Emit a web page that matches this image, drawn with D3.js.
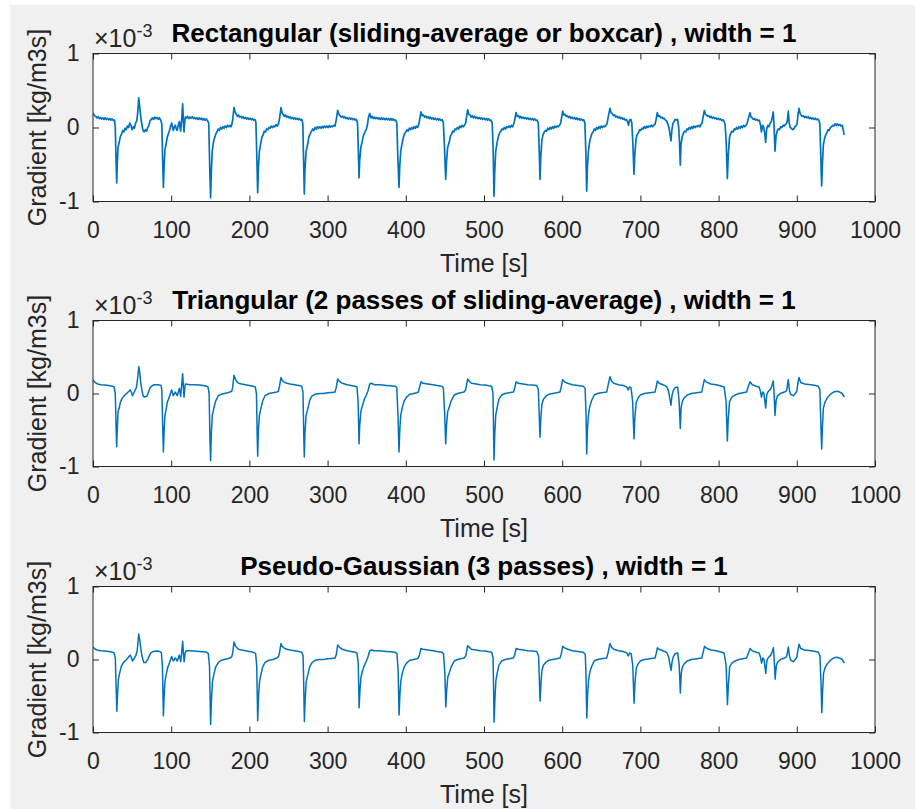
<!DOCTYPE html>
<html><head><meta charset="utf-8">
<script src="https://cdn.jsdelivr.net/npm/d3@7"></script>
<style>
body{margin:0;background:#fff}
text{font-family:"Liberation Sans",Arial,Helvetica,sans-serif}
</style>
</head><body>
<svg id="chart" width="919" height="809"></svg>
<script>
// ---------- data (gradient values in units of 1e-3 kg/m3s) ----------
const timeTicks = [0,100,200,300,400,500,600,700,800,900,1000];
const gradTicks = [-1,0,1];
const panelTitles = [
  "Rectangular (sliding-average or boxcar) , width = 1",
  "Triangular (2 passes of sliding-average) , width = 1",
  "Pseudo-Gaussian (3 passes) , width = 1"
];
const xLabel = "Time [s]";
const yLabel = "Gradient [kg/m3s]";

const rectSeries = [[0,0.2],[1,0.17],[2,0.16],[3.5,0.15],[5,0.13],[6.5,0.145],[8,0.12],[9.5,0.135],[11,0.115],[12.5,0.13],[14,0.11],[15.5,0.13],[17,0.11],[18.5,0.125],[20,0.105],[21.5,0.12],[23,0.1],[24.5,0.115],[26,0.095],[27.5,0.1],[28.5,0.0],[29.5,-0.45],[30.3,-0.75],[31,-0.5],[32,-0.27],[33.5,-0.2],[35,-0.12],[36.5,-0.09],[38,-0.04],[39.5,-0.06],[41,-0.01],[42.5,-0.03],[44,0.02],[45.5,0.0],[47,0.06],[48.5,0.03],[50,-0.03],[51.5,0.01],[53,-0.01],[54.5,0.06],[56,0.09],[57.2,0.2],[58.5,0.4],[59.5,0.3],[61,0.15],[62.5,0.04],[64,-0.04],[65.5,-0.06],[67,-0.03],[68.5,-0.05],[70,0.0],[71.5,0.03],[73,0.09],[74.5,0.11],[76,0.13],[77.5,0.11],[79,0.14],[80.5,0.12],[82,0.135],[83.5,0.11],[85,0.13],[86.5,0.1],[88,0.05],[89,-0.42],[90,-0.81],[91,-0.5],[92,-0.3],[93.5,-0.22],[95,-0.13],[96.5,-0.08],[97.6,-0.05],[99,0.01],[100.6,0.06],[102.7,-0.04],[104,0.01],[105.3,0.03],[106.5,-0.02],[107.8,-0.04],[109,0.03],[110.4,0.08],[112.1,-0.05],[113.5,0.12],[114.7,0.32],[115.5,0.1],[116.4,-0.06],[117.3,0.08],[118.1,0.14],[119.5,0.13],[121,0.15],[122.5,0.12],[124,0.14],[125.5,0.125],[127,0.145],[128.5,0.12],[130,0.135],[131.5,0.115],[133,0.13],[134.5,0.11],[136,0.13],[137.5,0.11],[139,0.125],[140.5,0.1],[142,0.12],[143.5,0.1],[145,0.115],[146.5,0.09],[148,0.06],[149.3,-0.55],[150.4,-0.95],[151.3,-0.6],[152.5,-0.32],[154,-0.2],[155.5,-0.14],[157,-0.09],[158.5,-0.06],[160,-0.02],[161.5,-0.04],[163,0.0],[164.5,-0.02],[166,0.01],[167.5,-0.01],[169,0.02],[170.5,0.0],[172,0.03],[173.5,0.01],[175,0.03],[176.5,0.01],[177.8,0.05],[178.8,0.12],[180.3,0.27],[181.5,0.22],[183,0.18],[184.5,0.15],[186,0.17],[187.5,0.14],[189,0.15],[190.5,0.13],[192,0.145],[193.5,0.12],[195,0.135],[196.5,0.115],[198,0.13],[199.5,0.11],[201,0.125],[202.5,0.105],[204,0.12],[205.5,0.1],[207,0.11],[208.3,0.07],[209.5,-0.4],[210.6,-0.88],[211.5,-0.55],[212.8,-0.32],[214.4,-0.22],[216,-0.13],[217.5,-0.1],[219,-0.05],[220.5,-0.06],[222,-0.02],[223.5,-0.03],[225,0.0],[226.5,-0.01],[228,0.02],[229.5,0.0],[231,0.02],[232.5,0.01],[234,0.04],[235.5,0.02],[237,0.04],[238.5,0.12],[240.4,0.27],[241.8,0.2],[243,0.18],[244.5,0.15],[246,0.17],[247.5,0.14],[249,0.155],[250.5,0.13],[252,0.145],[253.5,0.12],[255,0.135],[256.5,0.115],[258,0.13],[259.5,0.11],[261,0.125],[262.5,0.105],[264,0.12],[265.5,0.1],[267,0.11],[268.3,0.05],[269.4,-0.5],[270.2,-0.9],[271,-0.58],[272.5,-0.32],[274.5,-0.23],[276,-0.13],[277.5,-0.09],[279.6,-0.05],[281,-0.02],[282.5,-0.04],[284,0.0],[285.5,-0.02],[287,0.01],[288.5,-0.01],[290,0.01],[291.5,-0.01],[293,0.015],[294.5,-0.005],[296,0.02],[297.5,0.0],[299,0.02],[300.5,0.0],[302,0.025],[303.5,0.005],[305,0.02],[306.5,0.01],[308,0.03],[309.5,0.02],[311,0.1],[312.9,0.23],[314.5,0.18],[316,0.16],[317.5,0.14],[319,0.155],[320.5,0.13],[322,0.145],[323.5,0.12],[325,0.135],[326.5,0.115],[328,0.13],[329.5,0.11],[331,0.125],[332.5,0.105],[334,0.12],[335.5,0.1],[337,0.11],[338.3,0.05],[339.3,-0.3],[340.2,-0.68],[341,-0.45],[342.5,-0.27],[344.4,-0.18],[346,-0.1],[347.5,-0.07],[349.6,-0.02],[351,0.04],[352.3,0.14],[353.9,0.19],[355.5,0.13],[357,0.15],[358.5,0.12],[360,0.14],[361.5,0.12],[363,0.135],[364.5,0.115],[366,0.13],[367.5,0.11],[369,0.13],[370.5,0.11],[372,0.125],[373.5,0.105],[375,0.125],[376.5,0.105],[378,0.12],[379.5,0.1],[381,0.12],[382.5,0.1],[384,0.115],[385.5,0.095],[387,0.1],[388.5,0.06],[389.8,-0.4],[391.3,-0.81],[392.3,-0.52],[393.5,-0.32],[395.5,-0.2],[397,-0.13],[398.5,-0.08],[400,-0.06],[401.5,-0.03],[403,-0.05],[404.5,-0.01],[406,-0.03],[407.5,0.0],[409,-0.02],[410.5,0.01],[412,-0.01],[413.5,0.02],[415,0.0],[416.3,0.03],[417.6,0.1],[419.4,0.21],[421,0.16],[422.5,0.17],[424,0.14],[425.5,0.155],[427,0.13],[428.5,0.145],[430,0.12],[431.5,0.14],[433,0.115],[434.5,0.13],[436,0.11],[437.5,0.125],[439,0.105],[440.5,0.12],[442,0.1],[443.5,0.115],[445,0.095],[446.5,0.105],[448,0.07],[449.6,-0.3],[451,-0.7],[452,-0.47],[453.5,-0.27],[455.5,-0.2],[457,-0.12],[458.5,-0.09],[460,-0.05],[461.5,-0.06],[463,-0.02],[464.5,-0.03],[466,0.0],[467.5,-0.02],[469,0.02],[470.5,0.0],[472,0.03],[473.5,0.01],[475,0.03],[476.5,0.06],[477.8,0.15],[479.1,0.24],[480.5,0.18],[482,0.17],[483.5,0.14],[485,0.16],[486.5,0.13],[488,0.15],[489.5,0.125],[491,0.14],[492.5,0.12],[494,0.135],[495.5,0.115],[497,0.13],[498.5,0.11],[500,0.125],[501.5,0.105],[503,0.12],[504.5,0.1],[506,0.115],[507.5,0.095],[509,0.1],[510.5,0.06],[511.7,-0.3],[512.8,-0.93],[513.8,-0.58],[515,-0.32],[516.8,-0.2],[518.5,-0.12],[520,-0.07],[521.5,-0.05],[523,-0.02],[524.5,-0.03],[526,0.0],[527.5,-0.02],[529,0.01],[530.5,0.0],[532,0.02],[533.5,0.0],[535,0.03],[536.5,0.01],[537.8,0.04],[539.2,0.1],[541,0.2],[542.5,0.15],[544,0.16],[545.5,0.13],[547,0.15],[548.5,0.125],[550,0.14],[551.5,0.12],[553,0.135],[554.5,0.115],[556,0.13],[557.5,0.11],[559,0.125],[560.5,0.105],[562,0.12],[563.5,0.1],[565,0.115],[566.5,0.095],[568,0.1],[569.5,0.05],[570.6,-0.3],[571.6,-0.7],[572.6,-0.4],[574,-0.17],[575.5,-0.1],[577,-0.06],[578.5,-0.04],[580,-0.05],[581.5,-0.01],[583,-0.03],[584.5,0.0],[586,-0.02],[587.5,0.01],[589,-0.01],[590.5,0.02],[592,0.0],[593.5,0.02],[595,0.01],[596.5,0.03],[597.8,0.05],[599,0.12],[600.6,0.22],[602,0.17],[603.5,0.18],[605,0.15],[606.5,0.16],[608,0.135],[609.5,0.15],[611,0.125],[612.5,0.14],[614,0.12],[615.5,0.135],[617,0.11],[618.5,0.13],[620,0.105],[621.5,0.12],[623,0.1],[624.5,0.115],[626,0.095],[627.5,0.105],[629,0.06],[630.3,-0.35],[631.3,-0.86],[632.3,-0.53],[633.5,-0.32],[635,-0.2],[636.5,-0.13],[638,-0.08],[639.5,-0.06],[641,-0.02],[642.5,-0.04],[644,0.0],[645.5,-0.02],[647,0.01],[648.5,-0.01],[650,0.02],[651.5,0.0],[653,0.02],[654.5,0.01],[656,0.03],[657.3,0.05],[658.8,0.14],[661.1,0.26],[662.5,0.2],[664,0.19],[665.5,0.16],[667,0.17],[668.5,0.14],[670,0.155],[671.5,0.13],[673,0.145],[674.5,0.12],[676,0.135],[677.5,0.11],[679,0.125],[680.5,0.1],[682,0.11],[683.5,0.08],[684.8,0.03],[686.2,0.1],[687.8,0.11],[689,0.06],[690.3,-0.2],[691.8,-0.63],[692.8,-0.37],[694.5,-0.15],[696,-0.09],[697.5,-0.07],[699,-0.03],[700.5,-0.04],[702,-0.01],[703.5,-0.02],[705,0.01],[706.5,-0.01],[708,0.02],[709.5,0.0],[711,0.02],[712.5,0.01],[714,0.03],[715.5,0.01],[717,0.03],[718.5,0.04],[720,0.1],[721.6,0.2],[723,0.15],[724.5,0.16],[726,0.13],[727.5,0.14],[729,0.12],[730.5,0.125],[732,0.1],[733.5,0.09],[735,0.05],[736.5,0.0],[738,-0.1],[739.1,-0.18],[740.3,-0.03],[741.5,0.05],[743,0.08],[744.5,0.11],[746,0.1],[747.6,0.11],[749,0.0],[750,-0.2],[751,-0.51],[752,-0.22],[753.5,-0.12],[755,-0.08],[756.5,-0.05],[758,-0.06],[759.5,-0.02],[761,-0.03],[762.5,0.0],[764,-0.02],[765.5,0.01],[767,-0.01],[768.5,0.02],[770,0.0],[771.5,0.02],[773,0.01],[774.5,0.03],[776,0.01],[777.5,0.04],[778.8,0.06],[780.2,0.14],[781.8,0.23],[783.2,0.18],[784.5,0.17],[786,0.15],[787.5,0.16],[789,0.135],[790.5,0.15],[792,0.125],[793.5,0.14],[795,0.12],[796.5,0.13],[798,0.11],[799.5,0.125],[801,0.105],[802.5,0.115],[804,0.095],[805.5,0.105],[807,0.08],[808.3,0.04],[809.7,-0.2],[811.2,-0.69],[812.3,-0.38],[814,-0.13],[815.5,-0.08],[817,-0.05],[818.5,-0.06],[820,-0.02],[821.5,-0.03],[823,0.0],[824.5,-0.02],[826,0.01],[827.5,-0.01],[829,0.02],[830.5,0.0],[832,0.03],[833.5,0.01],[835,0.03],[836.3,0.05],[838,0.12],[840.2,0.2],[841.5,0.14],[843,0.13],[844.5,0.11],[846,0.12],[847.5,0.1],[849,0.11],[850.5,0.09],[852,0.1],[853.5,0.04],[854.8,-0.06],[856.2,0.03],[857.5,0.01],[859,-0.08],[860.2,-0.2],[861.5,-0.02],[863,0.03],[864.5,0.01],[866,0.06],[867.3,0.08],[868.6,0.14],[869.9,0.21],[871,0.0],[872.1,-0.32],[873.4,-0.12],[874.8,-0.05],[876.3,-0.02],[877.8,-0.03],[879.3,0.01],[880.8,0.0],[882.3,0.03],[883.8,0.02],[885.3,0.04],[886.8,0.05],[888,0.1],[889.1,0.22],[890.3,0.06],[891.5,0.0],[893,-0.01],[894.5,-0.03],[896,-0.02],[897.5,0.01],[899,0.02],[900.3,0.05],[901.5,0.17],[902.8,0.26],[904.2,0.19],[905.5,0.17],[907,0.15],[908.5,0.16],[910,0.135],[911.5,0.15],[913,0.13],[914.5,0.145],[916,0.12],[917.5,0.135],[919,0.115],[920.5,0.13],[922,0.11],[923.5,0.125],[925,0.105],[926.5,0.115],[928,0.1],[929.5,0.05],[930.7,-0.4],[931.8,-0.79],[932.8,-0.48],[934,-0.23],[935.5,-0.15],[937,-0.1],[938.5,-0.07],[940,-0.03],[941.5,-0.04],[943,0.0],[944.5,0.01],[946,0.03],[947.5,0.02],[949,0.05],[950.5,0.03],[952,0.05],[953.5,0.03],[955,0.04],[956.5,0.02],[958,0.03],[959.2,-0.02],[960.5,-0.1]];

const triSeries = [[0,0.19],[1,0.17],[3,0.15],[6,0.13],[10,0.12],[15,0.115],[20,0.11],[25,0.1],[27,0.09],[28.5,0.0],[29.5,-0.45],[30.3,-0.73],[31,-0.5],[32,-0.25],[33.5,-0.2],[35,-0.12],[37,-0.07],[40,-0.03],[43,0.0],[46,0.03],[47.5,0.05],[49,0.02],[50.5,-0.03],[52,0.0],[54,0.05],[55.5,0.08],[57,0.2],[58.6,0.37],[59.6,0.3],[61,0.15],[62.5,0.05],[64,-0.03],[65.5,-0.05],[67,-0.04],[69,-0.04],[71,0.02],[73,0.08],[75,0.1],[78,0.12],[82,0.12],[85,0.115],[87,0.11],[88,0.05],[89,-0.4],[90,-0.8],[91,-0.5],[92,-0.3],[93.5,-0.22],[95,-0.12],[97.6,-0.05],[100.6,0.05],[102.7,-0.03],[105.3,0.02],[107.8,-0.03],[110.4,0.07],[112.1,-0.04],[113.6,0.14],[114.7,0.27],[115.6,0.08],[116.4,-0.05],[117.3,0.07],[118.1,0.13],[124,0.12],[130,0.12],[136,0.115],[141,0.11],[145.3,0.1],[147,0.09],[148.5,0.0],[149.5,-0.6],[150.4,-0.92],[151.3,-0.55],[152.5,-0.3],[154.7,-0.19],[157,-0.1],[160.3,-0.03],[164,-0.01],[168,0.0],[172,0.01],[175,0.02],[177.4,0.03],[178.5,0.08],[180.3,0.25],[182,0.2],[184,0.16],[186,0.14],[190,0.13],[195,0.12],[200,0.11],[205,0.1],[207.5,0.09],[209,0.0],[210,-0.6],[210.6,-0.86],[211.5,-0.5],[212.8,-0.3],[214.4,-0.22],[217,-0.1],[220,-0.03],[225,0.0],[230,0.01],[235,0.02],[237,0.03],[238.5,0.1],[240.4,0.22],[242,0.18],[244,0.16],[247.7,0.14],[252,0.13],[258,0.12],[263,0.11],[266.9,0.1],[268.5,0.02],[269.5,-0.55],[270.2,-0.87],[271,-0.55],[272.5,-0.3],[274.5,-0.22],[277,-0.1],[279.6,-0.04],[284,-0.01],[290,0.0],[295,0.0],[300,0.01],[305,0.015],[309.5,0.02],[311,0.08],[312.9,0.2],[315,0.17],[318.8,0.14],[325,0.12],[330,0.11],[335,0.1],[337.5,0.09],[339,-0.1],[340.2,-0.69],[341,-0.45],[342.5,-0.25],[344.4,-0.17],[347,-0.08],[349.6,-0.02],[351.5,0.03],[353.9,0.13],[356,0.14],[360,0.12],[365,0.12],[370,0.115],[375,0.11],[380,0.105],[386.2,0.1],[388.5,0.08],[390,-0.3],[391.3,-0.8],[392.3,-0.5],[393.5,-0.3],[395.5,-0.19],[398,-0.1],[401,-0.05],[405,-0.01],[410,0.0],[414,0.01],[416,0.02],[417.5,0.08],[419.4,0.16],[422,0.14],[428,0.13],[435,0.12],[440,0.11],[445.9,0.1],[448,0.08],[449.8,-0.3],[451,-0.69],[452,-0.45],[453.5,-0.25],[455.5,-0.19],[458,-0.1],[462,-0.02],[466,0.0],[470,0.01],[474.5,0.02],[476.5,0.05],[479.1,0.2],[481,0.17],[484,0.14],[490,0.13],[495,0.12],[501.5,0.115],[506,0.105],[509.8,0.1],[511.5,0.0],[512.8,-0.91],[513.8,-0.55],[515,-0.3],[516.8,-0.19],[519,-0.08],[522.6,-0.02],[527,0.0],[532,0.01],[537.5,0.02],[539,0.06],[541,0.16],[544,0.14],[550,0.13],[556,0.12],[562,0.115],[567.4,0.11],[569.5,0.05],[571.6,-0.6],[572.6,-0.35],[574,-0.15],[576,-0.08],[579,-0.04],[583,-0.01],[588,0.0],[593,0.01],[597.2,0.02],[598.5,0.08],[600.6,0.19],[603,0.16],[607,0.14],[613,0.12],[620,0.11],[627,0.1],[629.3,0.07],[630.5,-0.3],[631.3,-0.83],[632.3,-0.5],[633.5,-0.3],[635,-0.19],[637.5,-0.1],[641,-0.02],[645,0.0],[650,0.01],[656.9,0.02],[658.5,0.1],[661.1,0.23],[663,0.17],[666,0.14],[672,0.12],[678,0.11],[682.5,0.09],[684.5,0.05],[686,0.09],[688,0.08],[690,-0.1],[691.8,-0.62],[692.8,-0.35],[694.5,-0.13],[697,-0.06],[700,-0.02],[705,0.0],[712,0.01],[718.7,0.02],[720,0.08],[721.6,0.17],[724,0.14],[731,0.11],[734,0.09],[736,0.03],[739.1,-0.16],[740.5,-0.02],[742,0.04],[744.2,0.08],[747.6,0.09],[749.5,-0.1],[751,-0.48],[752,-0.2],[753.5,-0.11],[756,-0.06],[760,-0.02],[765,0.0],[772,0.01],[778.4,0.02],[780,0.1],[781.8,0.19],[784,0.16],[790,0.13],[797,0.12],[804,0.1],[807,0.09],[809.5,-0.1],[811.2,-0.65],[812.3,-0.35],[814,-0.11],[817,-0.05],[821,-0.02],[826,0.0],[831,0.01],[835.9,0.02],[838,0.1],[840.2,0.16],[843,0.12],[848,0.1],[851.8,0.09],[853.5,0.03],[854.8,-0.05],[856.5,0.02],[858,0.0],[860.2,-0.2],[861.5,-0.02],[863,0.02],[866.6,0.06],[868.5,0.12],[869.9,0.17],[871,0.0],[872.1,-0.3],[873.5,-0.1],[875,-0.04],[879,0.0],[884,0.02],[887,0.04],[889.1,0.19],[890.5,0.05],[892,-0.01],[895.5,-0.03],[898,0.0],[900,0.03],[901.5,0.15],[902.8,0.22],[905,0.15],[910,0.13],[918,0.12],[924,0.11],[927.5,0.1],[929.5,0.05],[931,-0.5],[931.8,-0.76],[932.8,-0.45],[934,-0.2],[936,-0.12],[939,-0.06],[943,-0.01],[947,0.02],[951,0.03],[955,0.02],[958,0.0],[960.8,-0.05]];

const gaussSeries = [[0,0.17],[2,0.15],[5,0.13],[10,0.12],[15,0.115],[20,0.11],[25,0.1],[27,0.09],[28.5,0.02],[29.5,-0.35],[30.5,-0.71],[31.5,-0.45],[32.5,-0.27],[34,-0.19],[36,-0.1],[39,-0.04],[43,0.0],[46,0.04],[47.5,0.06],[49,0.03],[50.5,-0.02],[52.5,0.01],[55,0.06],[56.5,0.12],[58.5,0.35],[60,0.25],[61.5,0.12],[63,0.03],[65,-0.04],[67.5,-0.04],[70,0.0],[72,0.05],[74,0.09],[77,0.11],[82,0.115],[86,0.105],[87.5,0.09],[88.8,-0.1],[90,-0.77],[91,-0.5],[92,-0.3],[93.5,-0.21],[95.5,-0.11],[97.6,-0.05],[100.6,0.04],[102.7,-0.02],[105.3,0.02],[107.8,-0.02],[110.4,0.06],[112.1,-0.03],[113.6,0.12],[114.7,0.25],[115.8,0.05],[116.6,-0.03],[117.6,0.08],[119,0.12],[124,0.12],[130,0.115],[136,0.11],[141,0.105],[145.3,0.1],[147.5,0.08],[149,-0.1],[150.4,-0.89],[151.5,-0.55],[152.8,-0.3],[154.8,-0.19],[157,-0.1],[160.3,-0.04],[164,-0.01],[168,0.0],[172,0.01],[175,0.02],[177.5,0.04],[178.8,0.1],[180.3,0.24],[182,0.19],[184,0.16],[186,0.14],[190,0.13],[195,0.12],[200,0.11],[205,0.1],[208,0.08],[209.4,-0.1],[210.6,-0.84],[211.7,-0.5],[213,-0.3],[214.6,-0.21],[217,-0.1],[220,-0.04],[225,-0.01],[230,0.0],[235,0.02],[237.2,0.04],[238.6,0.1],[240.4,0.22],[242,0.18],[244,0.16],[247.7,0.14],[252,0.13],[258,0.12],[263,0.11],[267,0.1],[268.6,0.05],[269.2,-0.2],[270.3,-0.85],[271.3,-0.55],[272.7,-0.3],[274.7,-0.21],[277,-0.1],[279.6,-0.05],[284,-0.01],[290,0.0],[295,0.0],[300,0.01],[305,0.015],[309.5,0.02],[311.2,0.07],[312.9,0.2],[315,0.17],[318.8,0.14],[325,0.12],[330,0.11],[335,0.1],[337.5,0.09],[339.2,-0.05],[340.3,-0.66],[341.3,-0.43],[342.7,-0.24],[344.5,-0.16],[347,-0.08],[349.6,-0.02],[351.5,0.03],[353.9,0.12],[356,0.13],[360,0.12],[365,0.12],[370,0.115],[375,0.11],[380,0.105],[386.2,0.1],[388.7,0.08],[390.2,-0.15],[391.4,-0.76],[392.5,-0.47],[393.7,-0.29],[395.7,-0.18],[398,-0.1],[401,-0.05],[405,-0.01],[410,0.0],[414,0.01],[416,0.02],[417.6,0.07],[419.4,0.15],[422,0.14],[428,0.13],[435,0.12],[440,0.11],[445.9,0.1],[448.2,0.08],[450,-0.2],[451.1,-0.65],[452.2,-0.43],[453.7,-0.24],[455.7,-0.18],[458,-0.1],[462,-0.02],[466,0.0],[470,0.01],[474.5,0.02],[476.7,0.05],[479.1,0.19],[481,0.17],[484,0.14],[490,0.13],[495,0.12],[501.5,0.115],[506,0.105],[509.8,0.1],[511.6,0.02],[512.9,-0.86],[514,-0.53],[515.2,-0.29],[517,-0.18],[519,-0.08],[522.6,-0.02],[527,0.0],[532,0.01],[537.5,0.02],[539.2,0.06],[541,0.15],[544,0.14],[550,0.13],[556,0.12],[562,0.115],[567.4,0.11],[569.8,0.05],[571.7,-0.57],[572.8,-0.33],[574.2,-0.14],[576,-0.08],[579,-0.04],[583,-0.01],[588,0.0],[593,0.01],[597.2,0.02],[598.7,0.07],[600.6,0.18],[603,0.16],[607,0.14],[613,0.12],[620,0.11],[627,0.1],[629.5,0.07],[630.4,-0.2],[631.4,-0.8],[632.5,-0.48],[633.7,-0.29],[635.2,-0.18],[637.5,-0.1],[641,-0.02],[645,0.0],[650,0.01],[656.9,0.02],[658.6,0.09],[661.1,0.22],[663,0.17],[666,0.14],[672,0.12],[678,0.11],[682.5,0.09],[684.5,0.05],[686.3,0.09],[688.2,0.08],[690.2,-0.08],[691.9,-0.6],[693,-0.33],[694.7,-0.12],[697,-0.06],[700,-0.02],[705,0.0],[712,0.01],[718.7,0.02],[720.2,0.08],[721.7,0.16],[724,0.14],[731,0.11],[734,0.09],[736.2,0.03],[739.2,-0.15],[740.7,-0.02],[742.2,0.04],[744.3,0.08],[747.7,0.09],[749.6,-0.08],[751.1,-0.46],[752.2,-0.19],[753.7,-0.1],[756,-0.06],[760,-0.02],[765,0.0],[772,0.01],[778.4,0.02],[780.1,0.09],[781.9,0.18],[784,0.16],[790,0.13],[797,0.12],[804,0.1],[807,0.09],[809.6,-0.08],[811.3,-0.62],[812.5,-0.34],[814.2,-0.1],[817,-0.05],[821,-0.02],[826,0.0],[831,0.01],[835.9,0.02],[838.1,0.09],[840.3,0.15],[843,0.12],[848,0.1],[851.8,0.09],[853.6,0.03],[855,-0.05],[856.6,0.02],[858.1,0.0],[860.3,-0.19],[861.7,-0.02],[863.2,0.02],[866.7,0.06],[868.6,0.11],[870,0.16],[871.1,0.0],[872.3,-0.27],[873.7,-0.09],[875.2,-0.04],[879,0.0],[884,0.02],[887,0.04],[889.2,0.17],[890.6,0.05],[892.2,-0.01],[895.5,-0.03],[898,0.0],[900,0.03],[901.6,0.14],[902.9,0.21],[905,0.15],[910,0.13],[918,0.12],[924,0.11],[927.5,0.1],[929.6,0.05],[931,-0.35],[932,-0.73],[933,-0.43],[934.2,-0.19],[936.2,-0.11],[939,-0.06],[943,-0.01],[947,0.02],[951,0.03],[955,0.02],[958,0.0],[960.8,-0.05]];

// ---------- layout ----------
const svg = d3.select("#chart");
const axColor = "#262626";
const lineColor = "#0072BD";
const plotLeft = 93, plotRight = 875;
const panels = [
  {title: panelTitles[0], data: rectSeries,  top: 53.5,  bottom: 201.5, lw: 1.7},
  {title: panelTitles[1], data: triSeries,   top: 320.5, bottom: 466.5, lw: 1.5},
  {title: panelTitles[2], data: gaussSeries, top: 586.5, bottom: 732.5, lw: 1.5}
];

svg.append("rect").attr("x",10).attr("y",5).attr("width",905).attr("height",804).attr("fill","#f0f0f0");

const x = d3.scaleLinear().domain([0,1000]).range([plotLeft, plotRight]);

panels.forEach((p, i) => {
  const y = d3.scaleLinear().domain([-1,1]).range([p.bottom, p.top]);
  const g = svg.append("g");

  g.append("rect").attr("x",plotLeft).attr("y",p.top)
    .attr("width",plotRight-plotLeft).attr("height",p.bottom-p.top).attr("fill","#fff");

  const clipId = "clip"+i;
  svg.append("clipPath").attr("id",clipId).append("rect")
    .attr("x",plotLeft).attr("y",p.top).attr("width",plotRight-plotLeft).attr("height",p.bottom-p.top);

  const line = d3.line().x(d=>x(d[0])).y(d=>y(d[1]));
  g.append("path").datum(p.data).attr("clip-path","url(#"+clipId+")")
    .attr("d",line).attr("fill","none").attr("stroke",lineColor)
    .attr("stroke-width",p.lw).attr("stroke-linejoin","round");

  // axes
  const xb = g.append("g").attr("transform",`translate(0,${p.bottom})`)
    .call(d3.axisBottom(x).tickValues(timeTicks).tickSizeInner(-6).tickSizeOuter(0).tickPadding(20).tickFormat(d3.format("d")));
  const xt = g.append("g").attr("transform",`translate(0,${p.top})`)
    .call(d3.axisTop(x).tickValues(timeTicks).tickSizeInner(-6).tickSizeOuter(0).tickFormat(""));
  const yl = g.append("g").attr("transform",`translate(${plotLeft},0)`)
    .call(d3.axisLeft(y).tickValues(gradTicks).tickSizeInner(-6).tickSizeOuter(0).tickPadding(13.5).tickFormat(d=>d<0?"-"+Math.abs(d):String(d)));
  const yr = g.append("g").attr("transform",`translate(${plotRight},0)`)
    .call(d3.axisRight(y).tickValues(gradTicks).tickSizeInner(-6).tickSizeOuter(0).tickFormat(""));
  [xb,xt,yl,yr].forEach(a=>{
    a.select(".domain").remove();
    a.selectAll("line").attr("stroke",axColor).attr("stroke-width",1);
    a.selectAll("text").attr("fill",axColor).style("font-size","23px")
      .style("font-family",'"Liberation Sans",Arial,sans-serif');
  });

  g.append("rect").attr("x",plotLeft).attr("y",p.top)
    .attr("width",plotRight-plotLeft).attr("height",p.bottom-p.top)
    .attr("fill","none").attr("stroke",axColor).attr("stroke-width",1);

  // exponent
  const ex = g.append("text").attr("x",plotLeft+1).attr("y",p.top-7)
    .attr("fill",axColor).style("font-size","25px");
  ex.append("tspan").text("\u00d710");
  ex.append("tspan").attr("dy",-10).style("font-size","18px").text("-3");

  // title
  g.append("text").attr("x",(plotLeft+plotRight)/2).attr("y",p.top-12)
    .attr("text-anchor","middle").attr("fill","#000")
    .style("font-size","26px").style("font-weight","bold").text(p.title);

  // x label
  g.append("text").attr("x",(plotLeft+plotRight)/2).attr("y",p.bottom+70.5)
    .attr("text-anchor","middle").attr("fill",axColor)
    .style("font-size","25px").text(xLabel);

  // y label
  g.append("text").attr("transform",`translate(46,${(p.top+p.bottom)/2}) rotate(-90)`)
    .attr("text-anchor","middle").attr("fill",axColor)
    .style("font-size","25px").text(yLabel);
});
</script>
</body></html>
